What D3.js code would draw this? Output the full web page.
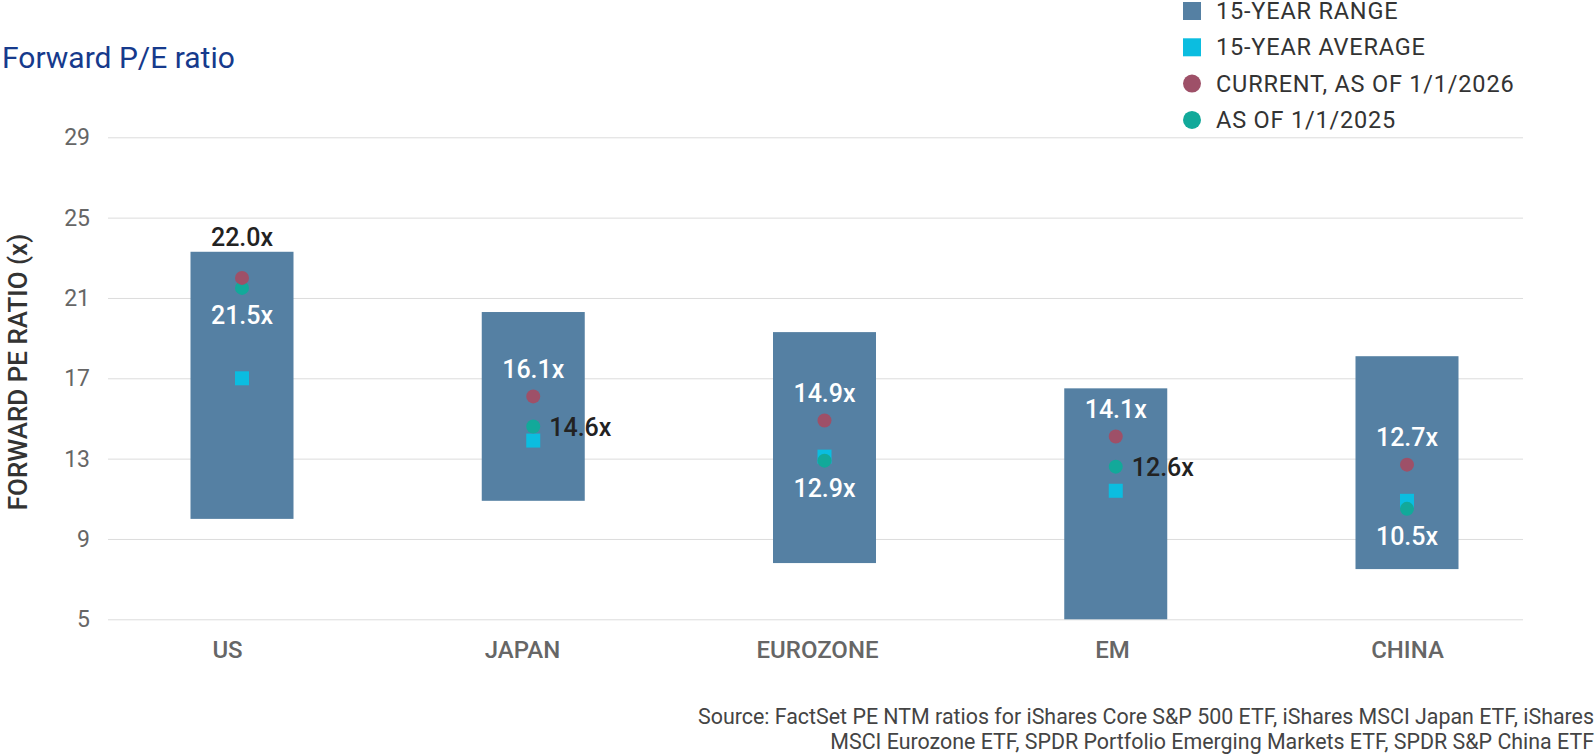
<!DOCTYPE html>
<html>
<head>
<meta charset="utf-8">
<script src="https://cdn.jsdelivr.net/npm/d3@7"></script>
<style>
  body { margin: 0; background: #fff; }
  svg { display: block; font-family: Roboto, "Noto Sans", sans-serif; }
</style>
</head>
<body>
<svg id="chart" width="1596" height="754"></svg>
<script>
// dados
var categories = ["US", "JAPAN", "EUROZONE", "EM", "CHINA"];
var rangeLow   = [10.0, 10.9, 7.8, 5.0, 7.5];
var rangeHigh  = [23.3, 20.3, 19.3, 16.5, 18.1];
var average15  = [17.0, 13.9, 13.1, 11.4, 10.9];
var current    = [22.0, 16.1, 14.9, 14.1, 12.7];
var prevYear   = [21.5, 14.6, 12.9, 12.6, 10.5];
var yTicks     = [5, 9, 13, 17, 21, 25, 29];

var legendItems = [
    { label: "15-YEAR RANGE", color: "#5580a3", shape: "rect" },
    { label: "15-YEAR AVERAGE", color: "#0bbde0", shape: "rect" },
    { label: "CURRENT, AS OF 1/1/2026", color: "#9e5068", shape: "circle" },
    { label: "AS OF 1/1/2025", color: "#12a99a", shape: "circle" }
];

var svg = d3.select("#chart");

var y = d3.scaleLinear().domain([5, 29]).range([619.3, 137.3]);
var x = d3.scalePoint().domain(categories).range([242, 1407]);
var xLabel = d3.scalePoint().domain(categories).range([227, 1407]);
var barW = 103;

// título
svg.append("text")
    .attr("x", 2)
    .attr("y", 68)
    .attr("font-size", 30)
    .attr("fill", "#163a8c")
    .text("Forward P/E ratio");

// eixo y com linhas de grade
var yAxis = svg.append("g")
    .attr("transform", "translate(108,0)")
    .call(d3.axisLeft(y).tickValues(yTicks).tickSize(-1415).tickPadding(18));
yAxis.select(".domain").remove();
yAxis.selectAll(".tick line").attr("stroke", "#dcdcdc");
yAxis.selectAll(".tick text")
    .attr("font-size", 23)
    .attr("fill", "#666")
    .attr("font-family", "Roboto");

svg.append("text")
    .attr("transform", "translate(27,372) rotate(-90)")
    .attr("text-anchor", "middle")
    .attr("font-size", 26)
    .attr("font-weight", 500)
    .attr("fill", "#333")
    .text("FORWARD PE RATIO (x)");

// eixo x (só rótulos)
var xAxis = svg.append("g")
    .attr("transform", "translate(0,627)")
    .call(d3.axisBottom(xLabel).tickSize(0).tickPadding(14));
xAxis.select(".domain").remove();
xAxis.selectAll(".tick text")
    .attr("font-size", 24)
    .attr("font-weight", 500)
    .attr("fill", "#666")
    .attr("font-family", "Roboto");

var rows = categories.map((c, i) => ({
    cat: c, lo: rangeLow[i], hi: rangeHigh[i],
    avg: average15[i], cur: current[i], prev: prevYear[i]
}));

// barras do intervalo de 15 anos
svg.append("g")
    .selectAll("rect")
    .data(rows)
    .enter()
    .append("rect")
    .attr("x", d => x(d.cat) - barW / 2)
    .attr("y", d => y(d.hi))
    .attr("width", barW)
    .attr("height", d => y(d.lo) - y(d.hi))
    .attr("fill", "#5580a3");

// média
svg.append("g")
    .selectAll("rect")
    .data(rows)
    .enter()
    .append("rect")
    .attr("x", d => x(d.cat) - 7)
    .attr("y", d => y(d.avg) - 7)
    .attr("width", 14)
    .attr("height", 14)
    .attr("fill", "#0bbde0");

// 2025 e atual
svg.append("g")
    .selectAll("circle")
    .data(rows)
    .enter()
    .append("circle")
    .attr("cx", d => x(d.cat))
    .attr("cy", d => y(d.prev))
    .attr("r", 7)
    .attr("fill", "#12a99a");

svg.append("g")
    .selectAll("circle")
    .data(rows)
    .enter()
    .append("circle")
    .attr("cx", d => x(d.cat))
    .attr("cy", d => y(d.cur))
    .attr("r", 7)
    .attr("fill", "#9e5068");

// rótulos de valor
var fmt = v => v.toFixed(1) + "x";
var prevSide = { US: "below", JAPAN: "right", EUROZONE: "below", EM: "right", CHINA: "below" };

var labels = svg.append("g")
    .attr("font-size", 25)
    .attr("font-weight", 500);

rows.forEach(d => {
    var onTop = d.cat === "US";
    labels.append("text")
        .attr("x", x(d.cat))
        .attr("y", onTop ? y(d.hi) - 14 : y(d.cur) - 27)
        .attr("text-anchor", "middle")
        .attr("dominant-baseline", "central")
        .attr("fill", onTop ? "#222" : "#fff")
        .text(fmt(d.cur));

    var side = prevSide[d.cat];
    labels.append("text")
        .attr("x", side === "right" ? x(d.cat) + 16 : x(d.cat))
        .attr("y", side === "right" ? y(d.prev) + 1 : y(d.prev) + 28)
        .attr("text-anchor", side === "right" ? "start" : "middle")
        .attr("dominant-baseline", "central")
        .attr("fill", side === "right" ? "#222" : "#fff")
        .text(fmt(d.prev));
});

// legenda
var legend = svg.append("g")
    .selectAll("g")
    .data(legendItems)
    .enter()
    .append("g")
    .attr("transform", (d, i) => "translate(1183," + (11 + i * 36.3) + ")");

legend.filter(d => d.shape === "rect")
    .append("rect")
    .attr("x", 0).attr("y", -9)
    .attr("width", 18).attr("height", 18)
    .attr("fill", d => d.color);

legend.filter(d => d.shape === "circle")
    .append("circle")
    .attr("cx", 9).attr("cy", 0).attr("r", 9)
    .attr("fill", d => d.color);

legend.append("text")
    .attr("x", 33)
    .attr("dominant-baseline", "central")
    .attr("font-size", 23.5)
    .attr("letter-spacing", 0.8)
    .attr("fill", "#333")
    .text(d => d.label);

// fonte
var source = svg.append("text")
    .attr("text-anchor", "end")
    .attr("font-size", 21.4)
    .attr("fill", "#444");
source.append("tspan")
    .attr("x", 1594).attr("y", 724)
    .text("Source: FactSet PE NTM ratios for iShares Core S&P 500 ETF, iShares MSCI Japan ETF, iShares");
source.append("tspan")
    .attr("x", 1594).attr("y", 749)
    .text("MSCI Eurozone ETF, SPDR Portfolio Emerging Markets ETF, SPDR S&P China ETF");
</script>
</body>
</html>
